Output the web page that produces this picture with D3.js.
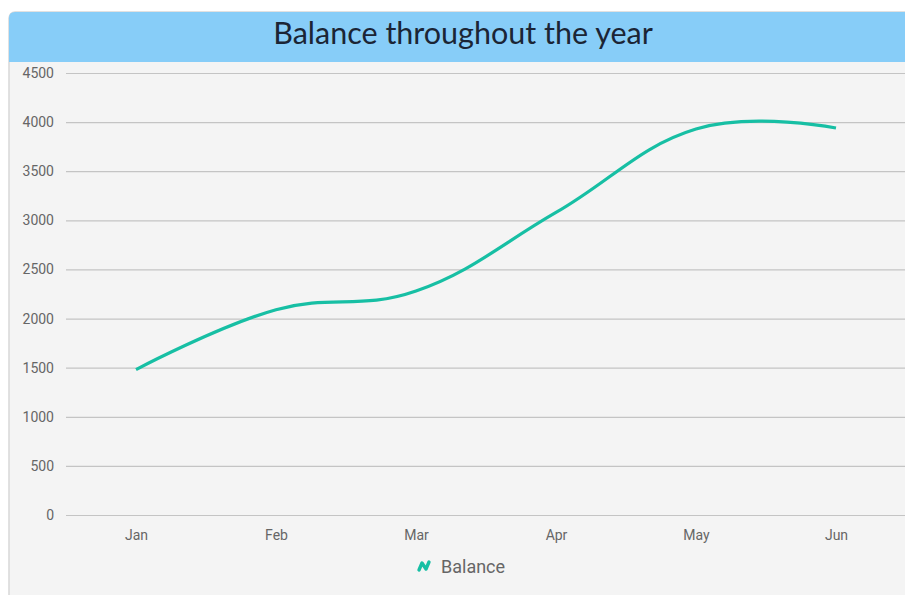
<!DOCTYPE html>
<html>
<head>
<meta charset="utf-8">
<script src="https://cdn.jsdelivr.net/npm/d3@7"></script>
<style>
  body { margin: 0; background: #fff; }
  svg { display: block; }
</style>
</head>
<body>
<svg id="chart" width="905" height="595"></svg>
<script>
const months = ["Jan", "Feb", "Mar", "Apr", "May", "Jun"];
const balance = [1480, 2090, 2280, 3080, 3930, 3940];
const yTicks = [0, 500, 1000, 1500, 2000, 2500, 3000, 3500, 4000, 4500];
const seriesName = "Balance";
const titleText = "Balance throughout the year";

const W = 905, H = 595;
const lineColour = "#17bfa4";
const svg = d3.select("#chart");

// card
const card = svg.append("g");
card.append("rect")
  .attr("x", 9).attr("y", 12).attr("width", W + 20).attr("height", H + 20)
  .attr("rx", 6)
  .attr("fill", "#f4f4f4").attr("stroke", "#d8d8d8").attr("stroke-width", 1.5);
card.append("path")
  .attr("d", `M9,62 V18 Q9,12 15,12 H${W + 10} V62 Z`)
  .attr("fill", "#87cdf8");
card.append("text")
  .attr("x", 463).attr("y", 44)
  .attr("text-anchor", "middle")
  .attr("font-family", "Lato, 'Open Sans', sans-serif")
  .attr("font-size", 30.5)
  .attr("fill", "#1b2535")
  .text(titleText);

// scales
const x = d3.scalePoint().domain(months).range([66, 906]).padding(0.5);
const y = d3.scaleLinear().domain([0, 4500]).range([515, 73]);

// grid + y axis
const yAxis = d3.axisLeft(y).tickValues(yTicks).tickFormat(d3.format("d"))
  .tickSize(-(906 - 66)).tickPadding(12);
const gy = svg.append("g").attr("transform", "translate(66,0)").call(yAxis);
gy.select(".domain").remove();
gy.selectAll(".tick line").attr("stroke", "#c4c4c4").attr("stroke-width", 1.2);
gy.selectAll(".tick text")
  .attr("font-family", "Roboto, sans-serif").attr("font-size", 14).attr("fill", "#666");

// x axis
const xAxis = d3.axisBottom(x).tickSize(0).tickPadding(15);
const gx = svg.append("g").attr("transform", "translate(0,515)").call(xAxis);
gx.select(".domain").remove();
gx.selectAll(".tick text")
  .attr("font-family", "Roboto, sans-serif").attr("font-size", 14).attr("fill", "#666");

// line
const line = d3.line()
  .x((d, i) => x(months[i]))
  .y(d => y(d))
  .curve(d3.curveCardinal.tension(-0.2));

svg.append("path")
  .datum(balance)
  .attr("d", line)
  .attr("fill", "none")
  .attr("stroke", lineColour)
  .attr("stroke-width", 3.2)
  .attr("stroke-linecap", "butt");

// legend
const lg = svg.append("g").attr("transform", "translate(418,566)");
lg.append("path")
  .attr("d", "M1,4 L4,-3 L8,3 L11,-4")
  .attr("fill", "none")
  .attr("stroke", lineColour)
  .attr("stroke-width", 3.4)
  .attr("stroke-linejoin", "round")
  .attr("stroke-linecap", "round");
lg.append("text")
  .attr("x", 23).attr("y", 6.5)
  .attr("font-family", "Roboto, sans-serif")
  .attr("font-size", 18)
  .attr("fill", "#666")
  .text(seriesName);
</script>
</body>
</html>
